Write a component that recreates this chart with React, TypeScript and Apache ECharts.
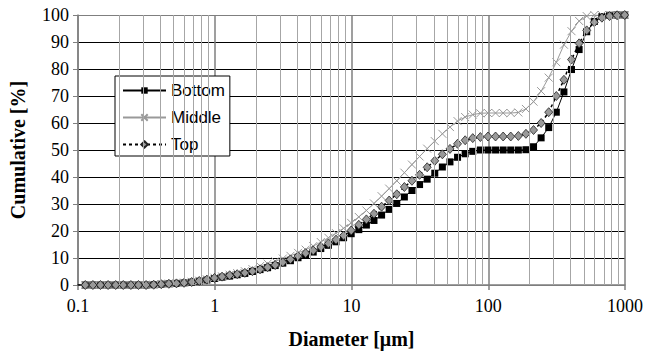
import React, { useEffect, useRef } from "react";
import * as echarts from "echarts";

const diameters = [
  0.0995, 0.1131, 0.1285, 0.146, 0.166, 0.1886, 0.2144, 0.2436, 0.2768, 0.3146, 0.3576, 0.4064, 0.4618, 0.5248, 0.5964, 0.6778, 0.7703, 0.8754,
  0.995, 1.131, 1.285, 1.46, 1.66, 1.886, 2.144, 2.436, 2.768, 3.146, 3.576, 4.064, 4.618, 5.248, 5.964, 6.778, 7.703, 8.754,
  9.95, 11.31, 12.85, 14.6, 16.6, 18.86, 21.44, 24.36, 27.68, 31.46, 35.76, 40.64, 46.18, 52.48, 59.64, 67.78, 77.03, 87.54,
  99.5, 113.1, 128.5, 146, 166, 188.6, 214.4, 243.6, 276.8, 314.6, 357.6, 406.4, 461.8, 524.8, 596.4, 677.8, 770.3, 875.4,
  995,
];

const bottom = [
  0, 0, 0, 0, 0, 0, 0, 0, 0, 0, 0.1, 0.3, 0.45, 0.6, 0.8, 1.05, 1.4, 1.85,
  2.4, 2.9, 3.3, 3.8, 4.3, 5.0, 5.7, 6.4, 7.2, 8.1, 9.0, 10.1, 11.0, 12.2, 13.5, 14.7, 16.0, 17.5,
  19.0, 20.5, 22.2, 23.9, 25.9, 28.0, 30.2, 32.6, 35.0, 37.2, 39.2, 41.4, 43.7, 45.6, 47.3, 48.6, 49.5, 50.0,
  50.0, 50.0, 50.0, 50.0, 50.0, 50.1, 51.2, 54.5, 58.3, 64.0, 71.5, 79.8, 87.2, 93.8, 97.6, 99.4, 99.9, 100,
  100,
];

const middle = [
  0, 0, 0, 0, 0, 0, 0, 0, 0, 0, 0.15, 0.35, 0.5, 0.7, 0.9, 1.2, 1.6, 2.1,
  2.7, 3.2, 3.8, 4.4, 5.1, 5.9, 7.0, 7.9, 8.8, 9.8, 10.8, 11.9, 13.1, 14.4, 15.9, 17.5, 19.2, 21.0,
  23.0, 25.2, 27.6, 30.2, 32.9, 35.7, 38.6, 41.6, 44.6, 47.6, 50.5, 53.3, 56.0, 58.5, 60.7, 62.2, 63.1, 63.6,
  63.7, 63.7, 63.7, 63.7, 63.9, 65.2, 67.9, 71.8, 76.8, 82.5, 89.0, 94.0, 97.8, 99.6, 100, 100, 100, 100,
  100,
];

const top = [
  0, 0, 0, 0, 0, 0, 0, 0, 0, 0, 0.1, 0.3, 0.45, 0.6, 0.8, 1.1, 1.5, 2.0,
  2.6, 3.1, 3.6, 4.0, 4.5, 5.1, 5.8, 6.6, 7.4, 8.4, 9.5, 10.7, 11.8, 12.8, 14.1, 15.4, 16.8, 18.3,
  20.2, 22.3, 24.3, 26.4, 29.0, 31.3, 33.6, 36.3, 38.6, 40.8, 43.6, 46.0, 48.4, 50.4, 52.3, 53.6, 54.4, 54.8,
  55.0, 55.0, 55.0, 55.0, 55.2, 56.0, 57.4, 60.0, 64.0, 70.0, 76.0, 83.5, 89.5, 94.3, 97.3, 99.0, 99.6, 99.9,
  100,
];

const minorGridValues = [
  0.2, 0.3, 0.4, 0.5, 0.6, 0.7, 0.8, 0.9,
  2, 3, 4, 5, 6, 7, 8, 9,
  20, 30, 40, 50, 60, 70, 80, 90,
  200, 300, 400, 500, 600, 700, 800, 900,
];

const seriesNames = ["Bottom", "Middle", "Top"];

const pairs = (ys: number[]) => diameters.map((d, i) => [d, ys[i]]);

const serif = "Liberation Serif";
const sans = "Liberation Sans";

export default function App() {
  const ref = useRef<HTMLDivElement>(null);
  useEffect(() => {
    document.body.style.margin = "0";
    if (!ref.current) return;
    const chart = echarts.init(ref.current, null, { renderer: "svg" });
    chart.setOption({
      animation: false,
      backgroundColor: "#fff",
      textStyle: { fontFamily: serif, fontSize: 17, color: "#000" },
      grid: { left: 77, right: 26, top: 15, bottom: 70 },
      legend: {
        data: seriesNames,
        orient: "vertical",
        left: 115,
        top: 76,
        backgroundColor: "#fff",
        borderColor: "#000",
        borderWidth: 1,
        borderRadius: 0,
        padding: [6, 5, 3, 7],
        itemGap: 10,
        itemWidth: 43,
        itemHeight: 8,
        textStyle: { fontFamily: sans, fontSize: 17, color: "#000" },
      },
      xAxis: {
        type: "log",
        logBase: 10,
        min: 0.1,
        max: 1000,
        name: "Diameter [μm]",
        nameLocation: "middle",
        nameGap: 44,
        nameTextStyle: { fontFamily: serif, fontSize: 20, fontWeight: "bold", color: "#000" },
        axisLine: { show: true, lineStyle: { color: "#7f7f7f", width: 1.5 } },
        axisTick: { show: true, length: 5, inside: false, lineStyle: { color: "#7f7f7f", width: 1.5 } },
        axisLabel: {
          fontFamily: serif,
          fontSize: 18,
          color: "#000",
          margin: 12,
          formatter: (v: number) => String(v),
        },
        splitLine: { show: true, lineStyle: { color: "#7f7f7f", width: 1.5 } },
        minorTick: { show: false },
      },
      yAxis: {
        type: "value",
        min: 0,
        max: 100,
        interval: 10,
        name: "Cumulative [%]",
        nameLocation: "middle",
        nameRotate: 90,
        nameGap: 50,
        nameTextStyle: { fontFamily: serif, fontSize: 20, fontWeight: "bold", color: "#000" },
        axisLine: { show: true, lineStyle: { color: "#7f7f7f", width: 1.5 } },
        axisTick: { show: true, length: 5, inside: false, lineStyle: { color: "#7f7f7f", width: 1 } },
        axisLabel: { fontFamily: serif, fontSize: 18, color: "#000", margin: 9 },
        splitLine: {
          show: true,
          lineStyle: {
            color: ["#7f7f7f", "#000", "#000", "#000", "#000", "#000", "#000", "#000", "#000", "#000", "#7f7f7f"],
            width: 1,
          },
        },
      },
      series: [
        {
          name: "_minor",
          type: "line",
          data: [],
          silent: true,
          z: 1,
          markLine: {
            silent: true,
            symbol: ["none", "none"],
            label: { show: false },
            animation: false,
            lineStyle: { color: "#a6a6a6", width: 1, type: "solid" },
            data: minorGridValues.map((v) => ({ xAxis: v })),
          },
        },
        {
          name: "Bottom",
          type: "line",
          z: 3,
          data: pairs(bottom),
          symbol: "rect",
          symbolSize: 7,
          itemStyle: { color: "#000" },
          lineStyle: { color: "#000", width: 1 },
        },
        {
          name: "Middle",
          type: "line",
          z: 3,
          data: pairs(middle),
          symbol: "path://M0 0L10 10M10 0L0 10",
          symbolSize: 8,
          itemStyle: { color: "#999", borderColor: "#999", borderWidth: 1 },
          lineStyle: { color: "#999", width: 1 },
        },
        {
          name: "Top",
          type: "line",
          z: 4,
          data: pairs(top),
          symbol: "diamond",
          symbolSize: [8, 9],
          itemStyle: { color: "#999", borderColor: "#222", borderWidth: 0.8 },
          lineStyle: { color: "#000", width: 1.5, type: [3, 3] },
        },
      ],
    });
    return () => chart.dispose();
  }, []);
  return <div ref={ref} style={{ width: 651, height: 355 }} />;
}
